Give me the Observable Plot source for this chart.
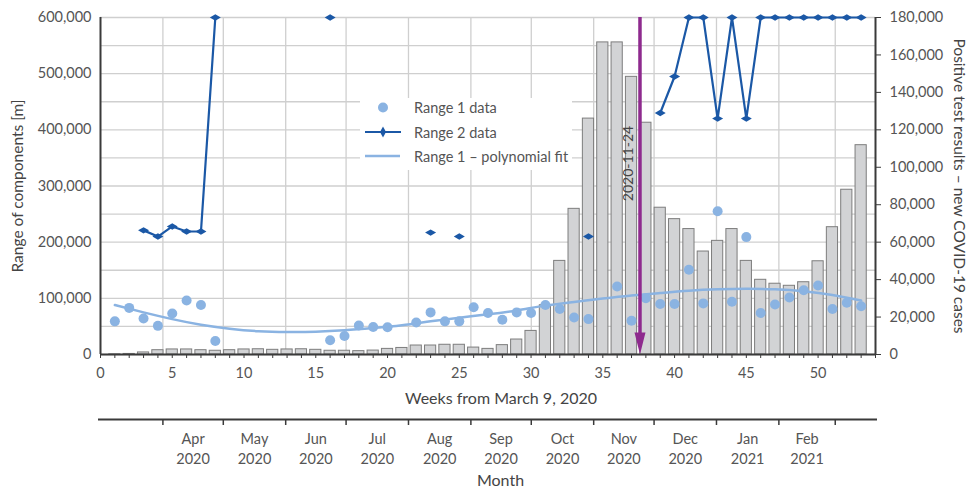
<!DOCTYPE html>
<html>
<head>
<meta charset="utf-8">
<script src="https://cdn.jsdelivr.net/npm/d3@7"></script>
<script src="https://cdn.jsdelivr.net/npm/@observablehq/plot@0.6"></script>
<style>
  body { margin: 0; background: #fff; }
  #chart { position: relative; width: 968px; height: 489px; font-family: Lato, "Noto Sans", sans-serif; color: #555; }
  #chart > svg { display: block; }
  #legend { position: absolute; left: 360px; top: 98px; width: 212px; height: 72px; background: #fff; }
  #legend svg { display: block; font-family: Lato, "Noto Sans", sans-serif; font-size: 14.5px; fill: #555; }
</style>
</head>
<body>
<div id="chart"></div>
<script>
// Weekly positive test results (new COVID-19 cases), weeks 1–53 from March 9, 2020
const weeks = d3.range(1, 54);
const newCases = [
  100, 300, 1100, 2300, 2700, 2700, 2300, 2000, 2300, 2700,
  2800, 2500, 2700, 2800, 2500, 2000, 2000, 1800, 2100, 3000,
  3500, 4800, 4800, 5200, 5200, 3700, 3000, 5000, 8000, 12600,
  26300, 50000, 77800, 126000, 166700, 166700, 148300, 123800, 78400, 72300,
  67000, 55000, 60700, 67000, 50000, 39900, 37800, 36700, 38600, 49800,
  68000, 88000, 111800
];

// Range 1 data [m]
const range1Weeks = [1, 2, 3, 4, 5, 6, 7, 8, 16, 17, 18, 19, 20, 22, 23, 24, 25, 26, 27, 28, 29, 30, 31,
  32, 33, 34, 36, 37, 38, 39, 40, 41, 42, 43, 44, 45, 46, 47, 48, 49, 50, 51, 52, 53];
const range1Values = [59000, 83000, 64000, 51000, 73000, 96000, 88000, 24000, 25500, 33000, 51500, 49000,
  48500, 57000, 75000, 59000, 59000, 84000, 74000, 62000, 75000, 74000, 88000, 81000, 66000, 63000,
  121000, 60000, 100000, 90000, 90000, 151000, 91000, 255000, 94000, 209000, 74000, 89000, 101500,
  114500, 123000, 81000, 92000, 86000];

// Range 2 data [m], one entry per week (null = no value)
const range2Values = [
  null, null, 221000, 210000, 228000, 219000, 219000, 600000, null, null,
  null, null, null, null, null, 600000, null, null, null, null,
  null, null, 217000, null, 210000, null, null, null, null, null,
  null, null, null, 210000, null, null, null, null, 430000, 495000,
  600000, 600000, 420000, 600000, 420000, 600000, 600000, 600000, 600000, 600000,
  600000, 600000, 600000
];

// Range 1 – polynomial fit, sampled every other week
const fitWeeks = d3.range(1, 54, 2);
const fitValues = [88000, 75000, 63000, 53000, 46000, 41500, 40000, 40500, 43000, 47000,
  52000, 59000, 65500, 71500, 78500, 87000, 93500, 99500, 105000, 109500,
  113500, 116000, 117000, 116000, 112500, 106000, 96000];

// Axis ticks
const leftTicks = d3.range(0, 600001, 100000);
const leftGrid = d3.range(0, 600001, 50000);
const rightTicks = d3.range(0, 180001, 20000);
const weekTicks = d3.range(0, 55);
const monthNames = ["Apr", "May", "Jun", "Jul", "Aug", "Sep", "Oct", "Nov", "Dec", "Jan", "Feb"];
const monthYears = ["2020", "2020", "2020", "2020", "2020", "2020", "2020", "2020", "2020", "2021", "2021"];
const monthStarts = d3.utcMonths(new Date(Date.UTC(2020, 3, 1)), new Date(Date.UTC(2021, 2, 2)));
const annotationDate = "2020-11-24";

// Scales shared by the two stacked panels
const monthDomain = [new Date(Date.UTC(2020, 2, 1)), new Date(Date.UTC(2021, 2, 21))];
const weekDomain = [0, 54];
const toWeek = d3.scaleUtc().domain(monthDomain).range(weekDomain);
const RATIO = 600000 / 180000; // right axis -> left axis units
const fmt = d3.format(",");

const C = {
  grid: "#cfcfcf", axis: "#3a3a3a", barFill: "#d2d3d5", barStroke: "#7d7d7d",
  light: "#8ab3e2", dark: "#1b58a6", purple: "#8e2a8e", text: "#555"
};

const diamondWide = { draw(ctx) { ctx.moveTo(-5.5, 0); ctx.lineTo(0, -3.2); ctx.lineTo(5.5, 0); ctx.lineTo(0, 3.2); ctx.closePath(); } };
const arrowHead = { draw(ctx) { ctx.moveTo(0, 0); ctx.lineTo(-5.5, -22); ctx.lineTo(5.5, -22); ctx.closePath(); } };

const bars = weeks.map((w, i) => ({ week: w, cases: newCases[i] }));
const range1 = range1Weeks.map((w, i) => ({ week: w, value: range1Values[i] }));
const range2 = weeks.map((w, i) => ({ week: w, value: range2Values[i] == null ? NaN : range2Values[i] }));
const fit = fitWeeks.map((w, i) => ({ week: w, value: fitValues[i] }));
const annoWeek = toWeek(new Date(annotationDate + "T00:00:00Z"));

const W = 968, ML = 100, MR = 93;
const style = { fontFamily: "Lato, 'Noto Sans', sans-serif", fontSize: "14px", color: C.text, background: "transparent", overflow: "visible" };

const main = Plot.plot({
  width: W, height: 410,
  marginLeft: ML, marginRight: MR, marginTop: 17, marginBottom: 56,
  style,
  x: { domain: weekDomain, axis: null },
  y: { domain: [0, 600000], axis: null },
  marks: [
    Plot.ruleY(leftGrid, { stroke: C.grid, strokeWidth: 1.3 }),
    Plot.ruleX(monthStarts.map(d => toWeek(d)), { stroke: C.grid, strokeWidth: 1.3 }),
    Plot.rectY(bars, { x1: d => d.week - 0.39, x2: d => d.week + 0.39, y: d => d.cases * RATIO, fill: C.barFill, stroke: C.barStroke, strokeWidth: 1 }),
    Plot.line(fit, { x: "week", y: "value", stroke: C.light, strokeWidth: 2.5, curve: "natural" }),
    Plot.dot(range1, { x: "week", y: "value", r: 5, fill: C.light }),
    Plot.line(range2, { x: "week", y: "value", stroke: C.dark, strokeWidth: 2.2 }),
    Plot.dot(range2.filter(d => !isNaN(d.value)), { x: "week", y: "value", symbol: diamondWide, r: 4, fill: C.dark }),
    Plot.ruleX([annoWeek], { y1: 600000, y2: 0, insetBottom: 18, stroke: C.purple, strokeWidth: 3.5 }),
    Plot.dot([annoWeek], { x: d => d, y: 0, symbol: arrowHead, r: 5, fill: C.purple }),
    Plot.text([annotationDate], { x: () => annoWeek, frameAnchor: "top", dy: 146, dx: -11, rotate: -90, textAnchor: "middle", lineAnchor: "middle", fontSize: 14, fill: "#444" }),
    // axes
    Plot.axisY({ anchor: "left", ticks: leftTicks, tickSize: 0, tickPadding: 9, tickFormat: fmt, label: null, fontSize: 14.5 }),
    Plot.axisY({ anchor: "right", ticks: rightTicks.map(v => v * RATIO), tickSize: 5, tickPadding: 9, tickFormat: d => fmt(Math.round(d / RATIO)), label: null, fontSize: 14.5, stroke: C.axis }),
    Plot.axisX({ ticks: weekTicks, tickSize: 4, tickPadding: 9, tickFormat: d => d % 5 === 0 ? String(d) : "", label: null, fontSize: 14.5, stroke: C.axis }),
    Plot.ruleY([0], { stroke: C.axis, strokeWidth: 2 }),
    Plot.ruleX([0, 54], { stroke: C.axis, strokeWidth: 2 }),
    Plot.text(["Range of components [m]"], { frameAnchor: "left", dx: -82, rotate: -90, textAnchor: "middle", lineAnchor: "middle", fontSize: 15.5, fill: "#444" }),
    Plot.text(["Positive test results \u2013 new COVID-19 cases"], { frameAnchor: "right", dx: 83, rotate: 90, textAnchor: "middle", lineAnchor: "middle", fontSize: 15.5, fill: "#444" }),
    Plot.text(["Weeks from March 9, 2020"], { frameAnchor: "bottom", dy: 44, dx: 13, lineAnchor: "middle", fontSize: 16, fill: "#444" })
  ]
});

const months = monthNames.map((m, i) => ({
  start: monthStarts[i],
  mid: new Date((monthStarts[i].getTime() + monthStarts[i + 1].getTime()) / 2),
  label: m + "\n" + monthYears[i]
}));

const monthAxis = Plot.plot({
  width: W, height: 79,
  marginLeft: ML, marginRight: MR, marginTop: 0, marginBottom: 0,
  style,
  x: { type: "utc", domain: monthDomain, axis: null },
  y: { domain: [79, 0], axis: null },
  marks: [
    Plot.ruleY([9], { stroke: C.axis, strokeWidth: 2, insetLeft: -2, insetRight: -2 }),
    Plot.ruleX(monthStarts, { y1: 9, y2: 15, stroke: C.axis, strokeWidth: 1.5 }),
    Plot.text(months, { x: "mid", y: 37.5, text: "label", lineHeight: 1.36, fontSize: 14.5, fill: C.text }),
    Plot.text(["Month"], { x: () => monthDomain[0], y: 70, dx: 400, lineAnchor: "middle", fontSize: 16, fill: "#444" })
  ]
});

const chart = document.getElementById("chart");
chart.appendChild(main);
chart.appendChild(monthAxis);

// Legend box
const legend = document.createElement("div");
legend.id = "legend";
legend.innerHTML = `
<svg width="212" height="72">
  <circle cx="23" cy="9.5" r="5" fill="${C.light}"></circle>
  <text x="54" y="15">Range 1 data</text>
  <line x1="5" x2="41" y1="34" y2="34" stroke="${C.dark}" stroke-width="2.2"></line>
  <path d="M23,28.5 L26,34 L23,39.5 L20,34 Z" fill="${C.dark}"></path>
  <text x="54" y="40">Range 2 data</text>
  <line x1="5" x2="40" y1="58" y2="58" stroke="${C.light}" stroke-width="2.5"></line>
  <text x="54" y="64">Range 1 \u2013 polynomial fit</text>
</svg>`;
chart.appendChild(legend);
</script>
</body>
</html>
